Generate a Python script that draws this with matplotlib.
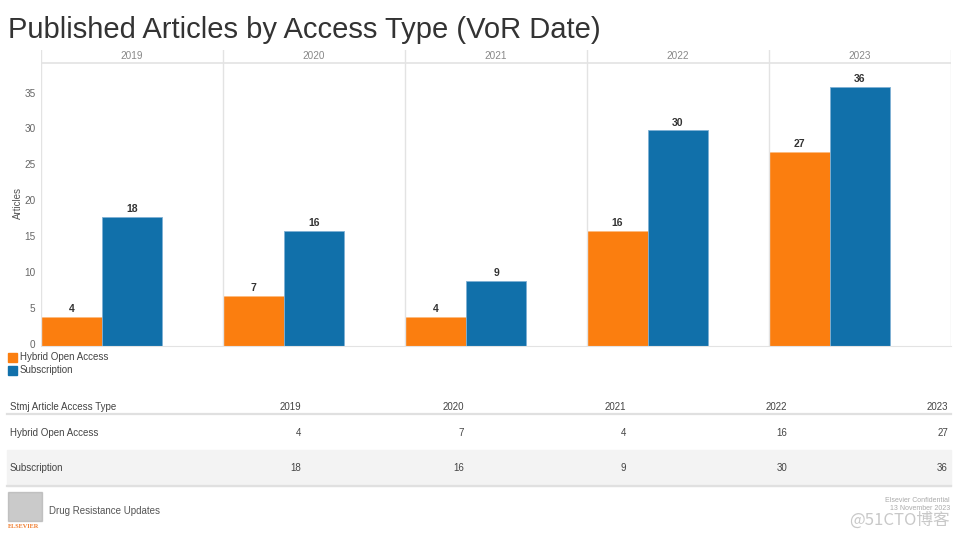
import matplotlib.pyplot as plt
import matplotlib.transforms as mtransforms
from matplotlib.patches import Rectangle

years = ['2019', '2020', '2021', '2022', '2023']
hybrid = [4, 7, 4, 16, 27]
subscription = [18, 16, 9, 30, 36]
series_names = ['Hybrid Open Access', 'Subscription']
colors = ['#fb7e0f', '#1170aa']

plt.rcParams['font.family'] = ['Liberation Sans', 'DejaVu Sans']

W, H = 960, 540
fig = plt.figure(figsize=(9.6, 5.4), dpi=100)


def fx(px):
    return px / W


def fy(py):
    return 1 - py / H


# title
fig.text(fx(8), fy(30), 'Published Articles by Access Type (VoR Date)',
         fontsize=21, color='#333333', va='center', ha='left')

# main chart
ax = fig.add_axes([fx(41), fy(346), fx(951) - fx(41), fy(50) - fy(346)])
top = 41.2
ax.set_ylim(0, top)
ax.set_xlim(0, len(years))
w = 1 / 3
for i, y in enumerate(years):
    ax.bar(i, hybrid[i], width=w, align='edge', color=colors[0],
           edgecolor='#fdbb80', linewidth=0.6)
    ax.bar(i + w, subscription[i], width=w, align='edge', color=colors[1],
           edgecolor='#7fb0d4', linewidth=0.6)
    ax.text(i + w / 2, hybrid[i] + 0.4, str(hybrid[i]), ha='center', va='bottom',
            fontsize=7.5, color='#333333', fontweight='bold')
    ax.text(i + 1.5 * w, subscription[i] + 0.4, str(subscription[i]), ha='center',
            va='bottom', fontsize=7.5, color='#333333', fontweight='bold')
    ax.text(i + 0.5, 40.3, y, ha='center', va='center', fontsize=7.2, color='#888888')
    ax.axvline(i, color='#e3e3e3', linewidth=1)
ax.axvline(len(years), color='#e3e3e3', linewidth=1)
ax.axhline(39.4, color='#e3e3e3', linewidth=1.2)
for s in ['top', 'left', 'right']:
    ax.spines[s].set_visible(False)
ax.spines['bottom'].set_color('#e3e3e3')
ax.set_xticks([])
ax.set_yticks(range(0, 40, 5))
ax.tick_params(axis='y', length=0, labelsize=7.2, labelcolor='#666666', pad=4)
shift = mtransforms.ScaledTranslation(0, 2 / 100, fig.dpi_scale_trans)
for lab in ax.get_yticklabels():
    lab.set_transform(lab.get_transform() + shift)
ax.set_ylabel('Articles', fontsize=7, color='#555555')
ax.yaxis.set_label_coords((fx(23) - fx(41)) / (fx(951) - fx(41)),
                          (fy(203) - fy(346)) / (fy(50) - fy(346)))

# legend
for k, name in enumerate(series_names):
    yy = 357 + 13 * k
    fig.patches.append(Rectangle((fx(8), fy(yy + 4.5)), fx(9) - fx(0), fy(0) - fy(9),
                                 transform=fig.transFigure, color=colors[k]))
    fig.text(fx(20), fy(yy), name, fontsize=7, color='#444444', va='center')

# table
col_x = [301, 464, 626, 787, 948]
fig.text(fx(10), fy(407), 'Stmj Article Access Type', fontsize=7, color='#444444', va='center')
for j, y in enumerate(years):
    fig.text(fx(col_x[j]), fy(407), y, fontsize=7, color='#444444', va='center', ha='right')
fig.lines.append(plt.Line2D([fx(7), fx(951)], [fy(414), fy(414)], transform=fig.transFigure,
                            color='#e0e0e0', linewidth=1.6))
fig.patches.append(Rectangle((fx(7), fy(486)), fx(951) - fx(7), fy(450) - fy(486),
                             transform=fig.transFigure, color='#f3f3f3', zorder=0))
fig.lines.append(plt.Line2D([fx(7), fx(951)], [fy(486), fy(486)], transform=fig.transFigure,
                            color='#e0e0e0', linewidth=1.6))
rows = [(series_names[0], hybrid, 433), (series_names[1], subscription, 468)]
for name, vals, yy in rows:
    fig.text(fx(10), fy(yy), name, fontsize=7, color='#444444', va='center')
    for j, v in enumerate(vals):
        fig.text(fx(col_x[j]), fy(yy), str(v), fontsize=7, color='#444444',
                 va='center', ha='right')

# footer
fig.patches.append(Rectangle((fx(8), fy(521)), fx(42) - fx(8), fy(492) - fy(521),
                             transform=fig.transFigure, color='#a8a8a8', alpha=0.6))
fig.text(fx(24), fy(526), 'ELSEVIER', fontsize=4.5, color='#f07a2a', ha='center',
         va='center', family='Liberation Serif', fontweight='bold')
fig.text(fx(49), fy(511), 'Drug Resistance Updates', fontsize=7, color='#555555', va='center')
fig.text(fx(950), fy(500), 'Elsevier Confidential', fontsize=5, color='#aaaaaa',
         va='center', ha='right')
fig.text(fx(950), fy(508), '13 November 2023', fontsize=5, color='#aaaaaa',
         va='center', ha='right')
fig.text(fx(950), fy(520), '@51CTO博客', fontsize=12, color='#bbbbbb', va='center',
         ha='right', family=['Noto Sans CJK SC', 'DejaVu Sans'], alpha=0.8)

fig.savefig('out.png', dpi=100)
